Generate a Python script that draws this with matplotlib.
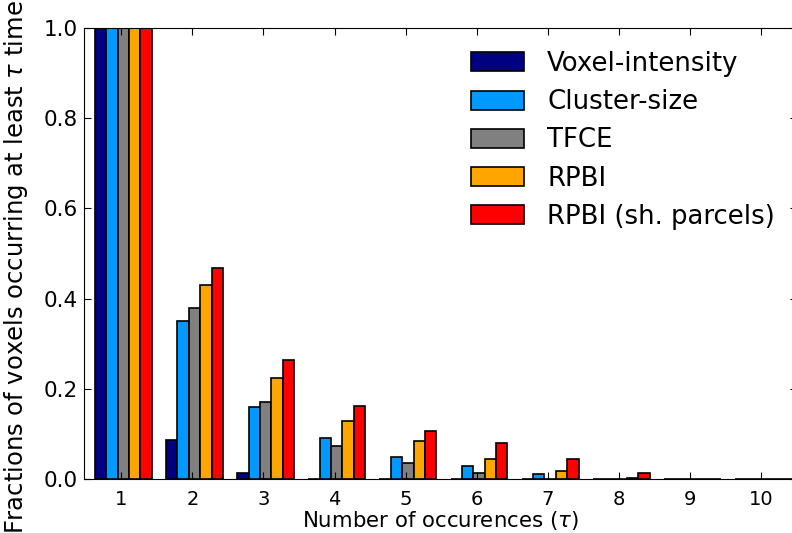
import matplotlib
matplotlib.use('Agg')
import matplotlib.pyplot as plt
import numpy as np

# ============ data ============
occurrences = [1, 2, 3, 4, 5, 6, 7, 8, 9, 10]
methods = ['Voxel-intensity', 'Cluster-size', 'TFCE', 'RPBI', 'RPBI (sh. parcels)']
colors = ['#000080', '#0099ff', '#808080', '#ffa500', '#ff0000']

voxel_intensity = [1.0, 0.086, 0.013, 0.001, 0.0, 0.0, 0.0, 0.0, 0.0, 0.0]
cluster_size = [1.0, 0.350, 0.160, 0.092, 0.048, 0.028, 0.010, 0.001, 0.0, 0.0]
tfce = [1.0, 0.380, 0.170, 0.074, 0.036, 0.013, 0.001, 0.0005, 0.0, 0.0]
rpbi = [1.0, 0.430, 0.225, 0.129, 0.084, 0.044, 0.017, 0.002, 0.0, 0.0]
rpbi_parcels = [1.0, 0.467, 0.263, 0.162, 0.106, 0.080, 0.045, 0.014, 0.0, 0.0]

series = [voxel_intensity, cluster_size, tfce, rpbi, rpbi_parcels]

plt.rcParams['font.family'] = 'DejaVu Sans'
plt.rcParams['xtick.direction'] = 'in'
plt.rcParams['ytick.direction'] = 'in'

fig = plt.figure(figsize=(7.92, 5.33), dpi=100)
# right spine sits just outside the picture, like the reference crop
ax = fig.add_axes([83.5 / 792, 1 - 479 / 533, (797 - 83.5) / 792, (479 - 28) / 533])

x = np.array(occurrences, dtype=float)
width = 0.16
for i, (vals, name, col) in enumerate(zip(series, methods, colors)):
    ax.bar(x - 0.37 + i * width, vals, width=width, align='edge',
           color=col, edgecolor='black', linewidth=1.2, label=name)

ax.set_xlim(0.47, 10.5)
ax.set_ylim(0, 1.0)
ax.set_xticks(occurrences)
ax.set_yticks([0.0, 0.2, 0.4, 0.6, 0.8, 1.0])
ax.set_yticklabels(['0.0', '0.2', '0.4', '0.6', '0.8', '1.0'])
ax.tick_params(axis='both', length=5, top=True, right=True)
ax.tick_params(axis='x', labelsize=14, pad=8)
ax.tick_params(axis='y', labelsize=15.5, pad=4)

ax.set_xlabel(r'Number of occurences ($\tau$)', fontsize=15.3, labelpad=0)
ax.set_ylabel(r'Fractions of voxels occurring at least $\tau$ times', fontsize=17.5, labelpad=0)
ax.yaxis.set_label_coords(-0.075, 0.483)

ax.legend(loc='upper right', bbox_to_anchor=(1.002, 1.001), frameon=False, fontsize=18.7,
          handlelength=2.05, handleheight=0.75, labelspacing=0.47, handletextpad=0.88)

plt.savefig('out.png', dpi=100)
plt.close()
